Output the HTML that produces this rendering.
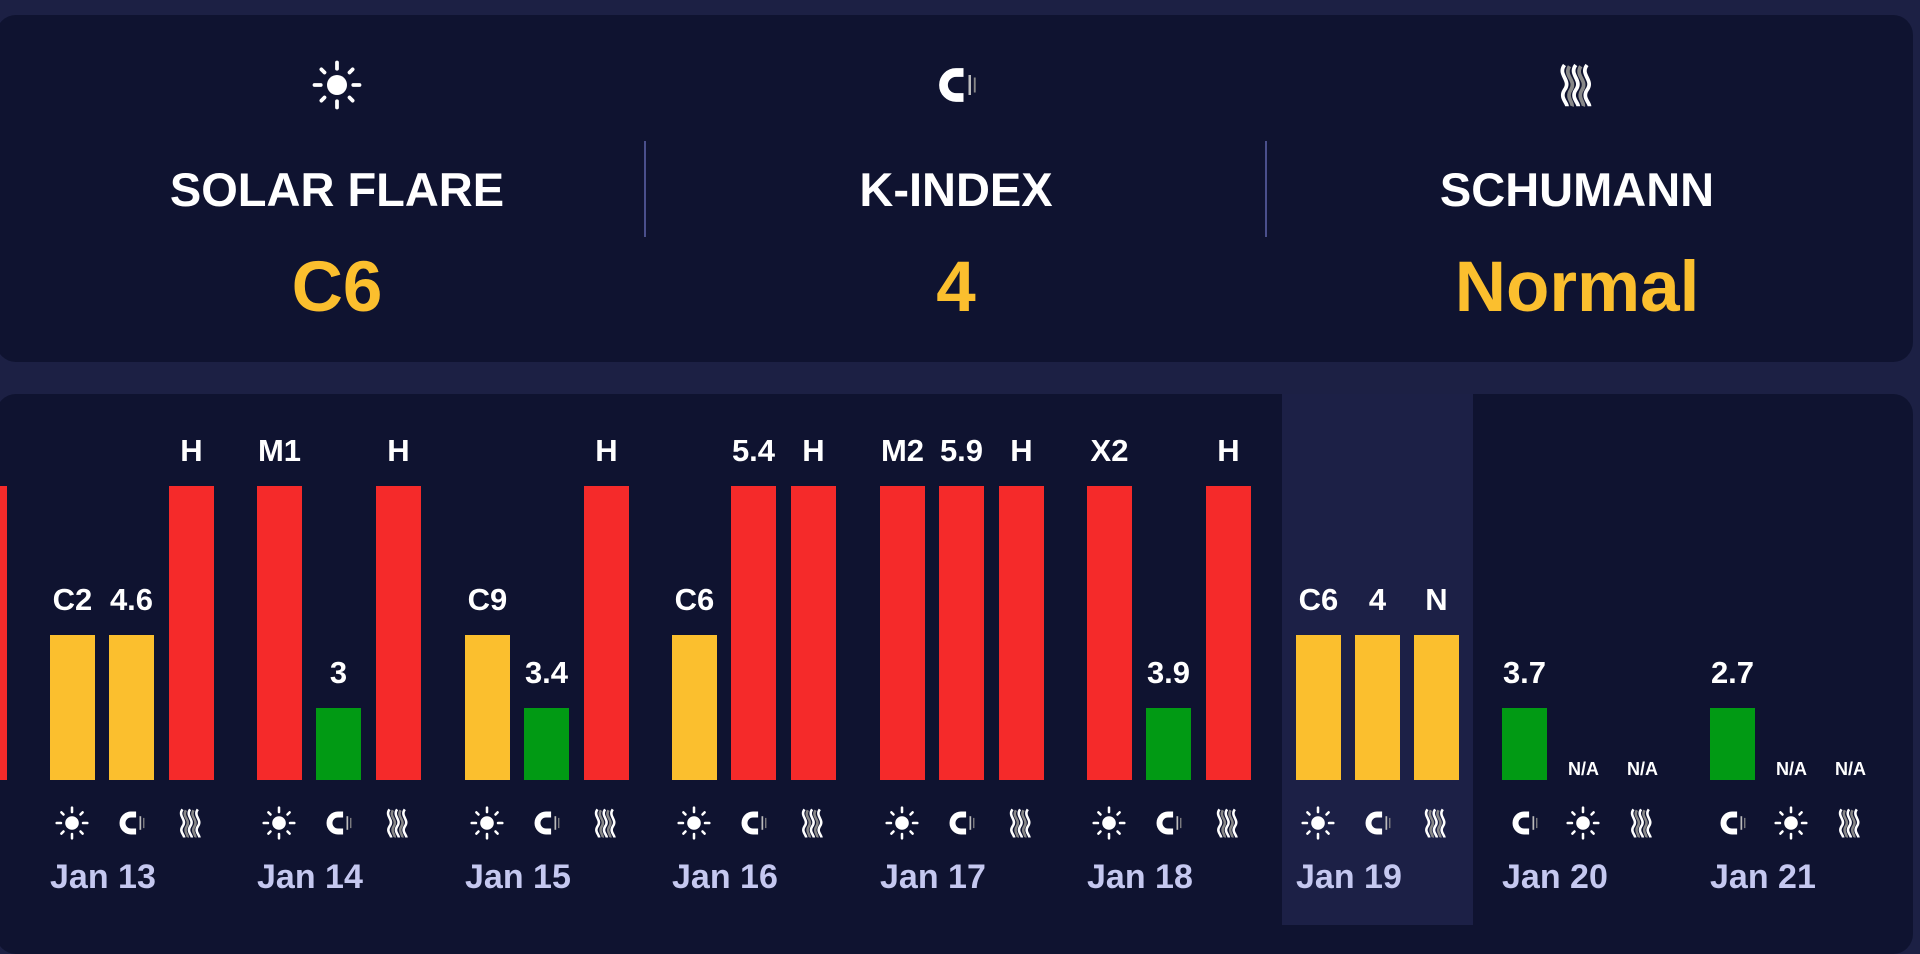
<!DOCTYPE html>
<html><head><meta charset="utf-8"><style>
*{margin:0;padding:0;box-sizing:border-box}
body{width:1920px;height:925px;background:#1c2044;font-family:"Liberation Sans",sans-serif;font-weight:bold;position:relative;overflow:hidden;color:#fff}
.card{position:absolute;left:-4px;width:1917px;background:#0f1330;border-radius:20px}
.col{position:absolute;top:0;width:560px;text-align:center}
.ttl{position:absolute;left:0;right:0;top:147px;font-size:47px;line-height:56px}
.val{position:absolute;left:0;right:0;top:235px;font-size:71px;line-height:76px;color:#fbbf2e}
.ico{position:absolute;top:45px;left:50%;margin-left:-25px;width:50px;height:50px}
.sep{position:absolute;top:126px;width:2px;height:96px;background:#4a4f8c}
.day{position:absolute;top:394px;height:531px;width:170px}
.slot{position:absolute;bottom:145px;width:45px;display:flex;flex-direction:column;align-items:center}
.lb{font-size:31px;line-height:40px;margin-bottom:15px;white-space:nowrap}
.na{font-size:18px;line-height:20px;margin-bottom:1px;white-space:nowrap}
.Y{background:#fbbf2e;height:145px;width:45px}
.R{background:#f52a2a;height:294px;width:45px}
.G{background:#019a14;height:72px;width:45px}
.si{position:absolute;top:412px;width:34px;height:34px}
.dt{position:absolute;left:0;top:463px;font-size:34px;line-height:40px;color:#c5c8f0;white-space:nowrap}
</style></head><body>
<svg width="0" height="0" style="position:absolute">
<defs>
<symbol id="sun" viewBox="0 0 40 40"><circle cx="20" cy="20" r="8" fill="#fff"/><g stroke="#fff" stroke-width="3" stroke-linecap="round"><line x1="20" y1="2" x2="20" y2="7"/><line x1="20" y1="33" x2="20" y2="38"/><line x1="2" y1="20" x2="7" y2="20"/><line x1="33" y1="20" x2="38" y2="20"/><line x1="7.5" y1="7.5" x2="10" y2="10"/><line x1="30" y1="30" x2="32.5" y2="32.5"/><line x1="32.5" y1="7.5" x2="30" y2="10"/><line x1="10" y1="30" x2="7.5" y2="32.5"/></g></symbol>
<symbol id="mag" viewBox="0 0 40 40"><path d="M26 10 L20 10 A10 10 0 0 0 20 30 L26 30" fill="none" stroke="#fff" stroke-width="7"/><line x1="31" y1="12" x2="31" y2="28" stroke="#bbb" stroke-width="2"/><line x1="35" y1="14" x2="35" y2="26" stroke="#888" stroke-width="1.5"/></symbol>
<symbol id="wav" viewBox="0 0 40 40"><g fill="none" stroke="#fff" stroke-width="3"><path d="M10 4 C4 12,16 16,10 24 C6 30,12 34,12 37"/><path d="M19 4 C13 12,25 16,19 24 C15 30,21 34,21 37"/><path d="M28 4 C22 12,34 16,28 24 C24 30,30 34,30 37"/></g><g fill="none" stroke="#888" stroke-width="3"><path d="M14 5 C9 13,20 16,15 24 C11 30,17 34,16 37"/><path d="M23 5 C18 13,29 16,24 24 C20 30,26 34,25 37"/></g></symbol>
</defs></svg>

<div class="card" style="top:15px;height:347px">
  <div class="col" style="left:61px"><svg class="ico"><use href="#sun"/></svg><div class="ttl">SOLAR FLARE</div><div class="val">C6</div></div>
  <div class="sep" style="left:648px"></div>
  <div class="col" style="left:680px"><svg class="ico"><use href="#mag"/></svg><div class="ttl">K-INDEX</div><div class="val">4</div></div>
  <div class="sep" style="left:1269px"></div>
  <div class="col" style="left:1301px"><svg class="ico"><use href="#wav"/></svg><div class="ttl">SCHUMANN</div><div class="val">Normal</div></div>
</div>

<div class="card" style="top:394px;height:560px"></div>
<div style="position:absolute;left:1282px;top:394px;width:191px;height:531px;background:#1c2046"></div>

<div class="day" style="left:-157px"><div class="slot" style="left:119px"><div class="R"></div></div></div>

<div class="day" style="left:50px">
 <div class="slot" style="left:0"><div class="lb">C2</div><div class="Y"></div></div>
 <div class="slot" style="left:59px"><div class="lb">4.6</div><div class="Y"></div></div>
 <div class="slot" style="left:119px"><div class="lb">H</div><div class="R"></div></div>
 <svg class="si" style="left:5px"><use href="#sun"/></svg><svg class="si" style="left:64px"><use href="#mag"/></svg><svg class="si" style="left:124px"><use href="#wav"/></svg>
 <div class="dt">Jan 13</div></div>

<div class="day" style="left:257px">
 <div class="slot" style="left:0"><div class="lb">M1</div><div class="R"></div></div>
 <div class="slot" style="left:59px"><div class="lb">3</div><div class="G"></div></div>
 <div class="slot" style="left:119px"><div class="lb">H</div><div class="R"></div></div>
 <svg class="si" style="left:5px"><use href="#sun"/></svg><svg class="si" style="left:64px"><use href="#mag"/></svg><svg class="si" style="left:124px"><use href="#wav"/></svg>
 <div class="dt">Jan 14</div></div>

<div class="day" style="left:465px">
 <div class="slot" style="left:0"><div class="lb">C9</div><div class="Y"></div></div>
 <div class="slot" style="left:59px"><div class="lb">3.4</div><div class="G"></div></div>
 <div class="slot" style="left:119px"><div class="lb">H</div><div class="R"></div></div>
 <svg class="si" style="left:5px"><use href="#sun"/></svg><svg class="si" style="left:64px"><use href="#mag"/></svg><svg class="si" style="left:124px"><use href="#wav"/></svg>
 <div class="dt">Jan 15</div></div>

<div class="day" style="left:672px">
 <div class="slot" style="left:0"><div class="lb">C6</div><div class="Y"></div></div>
 <div class="slot" style="left:59px"><div class="lb">5.4</div><div class="R"></div></div>
 <div class="slot" style="left:119px"><div class="lb">H</div><div class="R"></div></div>
 <svg class="si" style="left:5px"><use href="#sun"/></svg><svg class="si" style="left:64px"><use href="#mag"/></svg><svg class="si" style="left:124px"><use href="#wav"/></svg>
 <div class="dt">Jan 16</div></div>

<div class="day" style="left:880px">
 <div class="slot" style="left:0"><div class="lb">M2</div><div class="R"></div></div>
 <div class="slot" style="left:59px"><div class="lb">5.9</div><div class="R"></div></div>
 <div class="slot" style="left:119px"><div class="lb">H</div><div class="R"></div></div>
 <svg class="si" style="left:5px"><use href="#sun"/></svg><svg class="si" style="left:64px"><use href="#mag"/></svg><svg class="si" style="left:124px"><use href="#wav"/></svg>
 <div class="dt">Jan 17</div></div>

<div class="day" style="left:1087px">
 <div class="slot" style="left:0"><div class="lb">X2</div><div class="R"></div></div>
 <div class="slot" style="left:59px"><div class="lb">3.9</div><div class="G"></div></div>
 <div class="slot" style="left:119px"><div class="lb">H</div><div class="R"></div></div>
 <svg class="si" style="left:5px"><use href="#sun"/></svg><svg class="si" style="left:64px"><use href="#mag"/></svg><svg class="si" style="left:124px"><use href="#wav"/></svg>
 <div class="dt">Jan 18</div></div>

<div class="day" style="left:1296px">
 <div class="slot" style="left:0"><div class="lb">C6</div><div class="Y"></div></div>
 <div class="slot" style="left:59px"><div class="lb">4</div><div class="Y"></div></div>
 <div class="slot" style="left:118px"><div class="lb">N</div><div class="Y"></div></div>
 <svg class="si" style="left:5px"><use href="#sun"/></svg><svg class="si" style="left:64px"><use href="#mag"/></svg><svg class="si" style="left:123px"><use href="#wav"/></svg>
 <div class="dt">Jan 19</div></div>

<div class="day" style="left:1502px">
 <div class="slot" style="left:0"><div class="lb">3.7</div><div class="G"></div></div>
 <div class="slot" style="left:59px"><div class="na">N/A</div></div>
 <div class="slot" style="left:118px"><div class="na">N/A</div></div>
 <svg class="si" style="left:5px"><use href="#mag"/></svg><svg class="si" style="left:64px"><use href="#sun"/></svg><svg class="si" style="left:123px"><use href="#wav"/></svg>
 <div class="dt">Jan 20</div></div>

<div class="day" style="left:1710px">
 <div class="slot" style="left:0"><div class="lb">2.7</div><div class="G"></div></div>
 <div class="slot" style="left:59px"><div class="na">N/A</div></div>
 <div class="slot" style="left:118px"><div class="na">N/A</div></div>
 <svg class="si" style="left:5px"><use href="#mag"/></svg><svg class="si" style="left:64px"><use href="#sun"/></svg><svg class="si" style="left:123px"><use href="#wav"/></svg>
 <div class="dt">Jan 21</div></div>
</body></html>
